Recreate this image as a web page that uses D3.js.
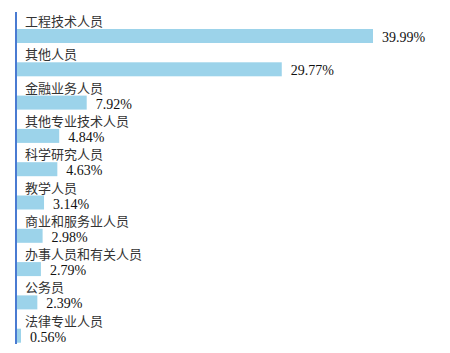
<!DOCTYPE html>
<html>
<head>
<meta charset="utf-8">
<script src="https://cdn.jsdelivr.net/npm/d3@7"></script>
<style>
  body { margin: 0; background: #fff; }
  .cat { font-family: "Noto Sans CJK SC", sans-serif; font-size: 13px; fill: #333; }
  .val { font-family: "Liberation Serif", "Times New Roman", serif; font-size: 14px; fill: #111; }
</style>
</head>
<body>
<svg width="450" height="353"></svg>
<script>
// occupations and share (%)
const categories = ["工程技术人员", "其他人员", "金融业务人员", "其他专业技术人员", "科学研究人员",
                    "教学人员", "商业和服务业人员", "办事人员和有关人员", "公务员", "法律专业人员"];
const shares = [39.99, 29.77, 7.92, 4.84, 4.63, 3.14, 2.98, 2.79, 2.39, 0.56];

const svg = d3.select("svg");
const left = 16;

const x = d3.scaleLinear().domain([0, 39.99]).range([0, 357]);
const y = d3.scaleBand().domain(categories).range([12, 345]).paddingInner(0);

const rows = categories.map((c, i) => ({ name: c, value: shares[i] }));

const g = svg.append("g");

// bars
g.selectAll("rect.bar")
  .data(rows)
  .enter().append("rect")
  .attr("class", "bar")
  .attr("x", left)
  .attr("y", d => y(d.name) + 17)
  .attr("width", d => x(d.value))
  .attr("height", 14)
  .attr("fill", "#9cd3ea");

// category labels above each bar
g.selectAll("text.cat")
  .data(rows)
  .enter().append("text")
  .attr("class", "cat")
  .attr("x", 25)
  .attr("y", d => y(d.name) + 14)
  .text(d => d.name);

// value labels at bar end
g.selectAll("text.val")
  .data(rows)
  .enter().append("text")
  .attr("class", "val")
  .attr("x", d => left + x(d.value) + 9)
  .attr("y", d => y(d.name) + 30)
  .text(d => d.value.toFixed(2) + "%");

// left axis line
svg.append("line")
  .attr("x1", 16).attr("x2", 16)
  .attr("y1", 12).attr("y2", 344)
  .attr("stroke", "#4a7bd2")
  .attr("stroke-width", 2);
</script>
</body>
</html>
